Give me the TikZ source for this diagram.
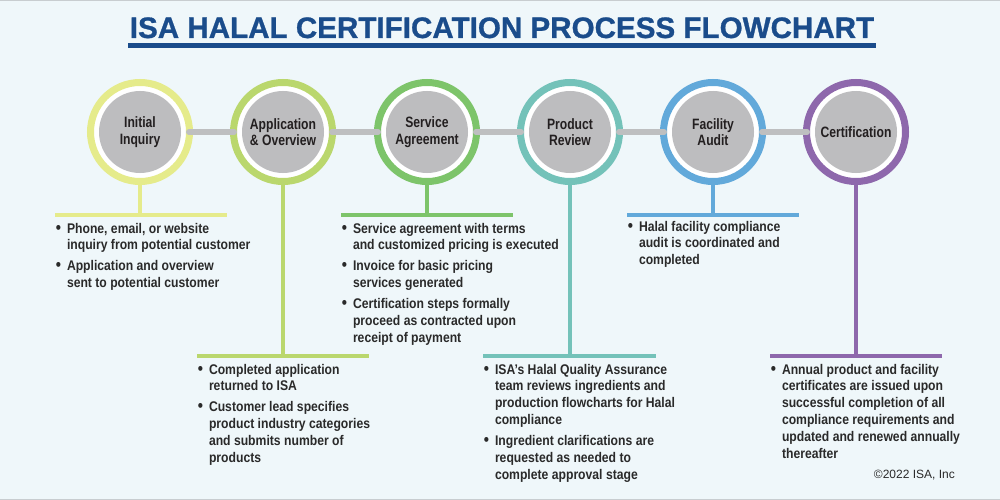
\documentclass[tikz,border=0pt]{standalone}
\usepackage{fontspec}
\setmainfont{Liberation Sans}
\newfontfamily\labfont{Liberation Sans}[FakeStretch=0.81]
\newfontfamily\txtfont{Liberation Sans}[FakeStretch=0.87]
\newfontfamily\titlefont{Liberation Sans}[BoldFeatures={FakeBold=0.9}]
\definecolor{bgcol}{HTML}{EFF7FA}
\definecolor{edgecol}{HTML}{C8CDD0}
\definecolor{titleblue}{HTML}{1A4C8B}
\definecolor{ringA}{HTML}{E5EB8B}
\definecolor{ringB}{HTML}{BAD76D}
\definecolor{ringC}{HTML}{7DC46A}
\definecolor{ringD}{HTML}{74C2B9}
\definecolor{ringE}{HTML}{62A9DA}
\definecolor{ringF}{HTML}{8E68AC}
\definecolor{diskgrey}{HTML}{BDBDBF}
\definecolor{conngrey}{HTML}{BEBFC0}
\definecolor{txtcol}{HTML}{2A2A2A}
\definecolor{labcol}{HTML}{231F20}
\newcommand\bul{\makebox[12pt][l]{\hspace{0.8pt}{\fontsize{17}{16.8}\selectfont•}}}
\tikzset{
  x=1pt, y=-1pt,
  ringnode/.style={circle, minimum size=99pt, inner sep=0pt, fill=white, draw=#1, line width=7pt},
  disk/.style={circle, minimum size=82pt, inner sep=0pt, outer sep=0pt, fill=diskgrey, align=center,
    text=labcol, font=\labfont\bfseries\fontsize{15}{16.5}\selectfont},
  conn/.style={draw=conngrey, line width=6pt, line cap=round, shorten <=8pt, shorten >=8pt},
  stem/.style={draw=#1, line width=3.4pt},
  bar/.style={draw=#1, line width=3.2pt},
  txt/.style={anchor=base west, inner sep=0pt, outer sep=0pt, text=txtcol,
    font=\txtfont\bfseries\fontsize{14}{16.8}\selectfont},
  titlestyle/.style={anchor=base, inner sep=0pt, text=titleblue, font=\titlefont\bfseries\fontsize{29.6}{34}\selectfont}
}
\begin{document}
\begin{tikzpicture}
\fill[bgcol] (0,0) rectangle (1000,500);
\useasboundingbox (0,0) rectangle (1000,500);
\draw[edgecol, line width=1.2pt] (0,0.6) -- (1000,0.6);
\draw[edgecol, line width=1.2pt] (0,499.4) -- (1000,499.4);

% title
\node[titlestyle] (title) at (502,38) {ISA HALAL CERTIFICATION PROCESS FLOWCHART};
\coordinate (ulA) at (128,45.5);
\coordinate (ulB) at (876,45.5);
\draw[titleblue, line width=4.3pt] (ulA) -- (ulB);

% rings
\node[ringnode=ringA] (r1) at (140,132) {};
\node[ringnode=ringB] (r2) at (283,132) {};
\node[ringnode=ringC] (r3) at (427,132) {};
\node[ringnode=ringD] (r4) at (570,132) {};
\node[ringnode=ringE] (r5) at (713,132) {};
\node[ringnode=ringF] (r6) at (856,132) {};

% disks
\node[disk] (c1) at (r1) {Initial\\Inquiry};
\node[disk] (c2) at (r2) {Application\\\& Overview};
\node[disk] (c3) at (r3) {Service\\Agreement};
\node[disk] (c4) at (r4) {Product\\Review};
\node[disk] (c5) at (r5) {Facility\\Audit};
\node[disk] (c6) at (r6) {Certification};

% connectors
\draw[conn] (c1) -- (c2);
\draw[conn] (c2) -- (c3);
\draw[conn] (c3) -- (c4);
\draw[conn] (c4) -- (c5);
\draw[conn] (c5) -- (c6);

% stems and bars
\coordinate (b1) at (140,215); \coordinate (b1l) at (55,215);  \coordinate (b1r) at (227,215);
\coordinate (b2) at (283,356); \coordinate (b2l) at (197,356); \coordinate (b2r) at (369,356);
\coordinate (b3) at (427,215); \coordinate (b3l) at (341,215); \coordinate (b3r) at (513,215);
\coordinate (b4) at (570,356); \coordinate (b4l) at (483,356); \coordinate (b4r) at (656,356);
\coordinate (b5) at (713,215); \coordinate (b5l) at (627,215); \coordinate (b5r) at (799,215);
\coordinate (b6) at (856,356); \coordinate (b6l) at (770,356); \coordinate (b6r) at (942,356);

\draw[stem=ringA] (r1.south) -- (b1);
\draw[stem=ringB] (r2.south) -- (b2);
\draw[stem=ringC] (r3.south) -- (b3);
\draw[stem=ringD] (r4.south) -- (b4);
\draw[stem=ringE] (r5.south) -- (b5);
\draw[stem=ringF] (r6.south) -- (b6);

\draw[bar=ringA] (b1l) -- (b1r);
\draw[bar=ringB] (b2l) -- (b2r);
\draw[bar=ringC] (b3l) -- (b3r);
\draw[bar=ringD] (b4l) -- (b4r);
\draw[bar=ringE] (b5l) -- (b5r);
\draw[bar=ringF] (b6l) -- (b6r);

% texts
\node[txt] (t1) at (55,233) {\begin{tabular}[t]{@{}l@{}l@{}}
\bul & Phone, email, or website\\
 & inquiry from potential customer\\[4.3pt]
\bul & Application and overview\\
 & sent to potential customer
\end{tabular}};

\node[txt] (t2) at (197,374) {\begin{tabular}[t]{@{}l@{}l@{}}
\bul & Completed application\\
 & returned to ISA\\[4.3pt]
\bul & Customer lead specifies\\
 & product industry categories\\
 & and submits number of\\
 & products
\end{tabular}};

\node[txt] (t3) at (341,233) {\begin{tabular}[t]{@{}l@{}l@{}}
\bul & Service agreement with terms\\
 & and customized pricing is executed\\[4.3pt]
\bul & Invoice for basic pricing\\
 & services generated\\[4.3pt]
\bul & Certification steps formally\\
 & proceed as contracted upon\\
 & receipt of payment
\end{tabular}};

\node[txt] (t4) at (483,374) {\begin{tabular}[t]{@{}l@{}l@{}}
\bul & ISA’s Halal Quality Assurance\\
 & team reviews ingredients and\\
 & production flowcharts for Halal\\
 & compliance\\[4.3pt]
\bul & Ingredient clarifications are\\
 & requested as needed to\\
 & complete approval stage
\end{tabular}};

\node[txt] (t5) at (627,231) {\begin{tabular}[t]{@{}l@{}l@{}}
\bul & Halal facility compliance\\
 & audit is coordinated and\\
 & completed
\end{tabular}};

\node[txt] (t6) at (770,374) {\begin{tabular}[t]{@{}l@{}l@{}}
\bul & Annual product and facility\\
 & certificates are issued upon\\
 & successful completion of all\\
 & compliance requirements and\\
 & updated and renewed annually\\
 & thereafter
\end{tabular}};

\node[anchor=base east, inner sep=0pt, text=txtcol, font=\fontsize{12}{14}\selectfont] (copy) at (955,478) {©2022 ISA, Inc};
\end{tikzpicture}
\end{document}
